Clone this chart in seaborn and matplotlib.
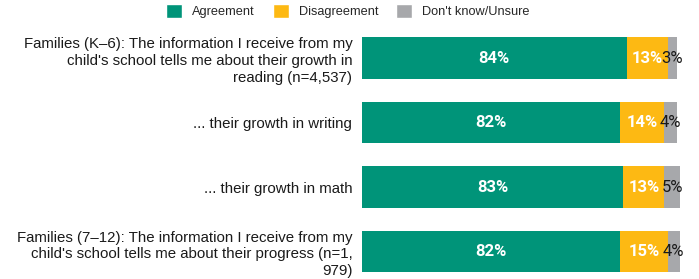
import pandas as pd
import matplotlib.pyplot as plt
import seaborn as sns
from matplotlib.patches import Patch

questions = [
    "Families (K\u20136): The information I receive from my\nchild's school tells me about their growth in\nreading (n=4,537)",
    "... their growth in writing",
    "... their growth in math",
    "Families (7\u201312): The information I receive from my\nchild's school tells me about their progress (n=1,\n979)",
]
agreement = [84, 82, 83, 82]
disagreement = [13, 14, 13, 15]
unsure = [3, 4, 5, 4]

UNS = "Don't know/Unsure"
colors = {'Agreement': '#009479', 'Disagreement': '#FDB913', UNS: '#A7A8AB'}

df = pd.DataFrame({'Question': questions, 'Agreement': agreement,
                   'Disagreement': disagreement, UNS: unsure})
df['cum_dis'] = df['Agreement'] + df['Disagreement']
df['cum_uns'] = df['cum_dis'] + df[UNS]

sns.set_style('white')
plt.rcParams['font.family'] = ['Liberation Sans', 'DejaVu Sans']

fig = plt.figure(figsize=(6.99, 2.79), dpi=100)
ax = fig.add_axes([0.518, 0.0, 0.455, 0.9077])

# stacked bars: draw cumulative totals back to front
bar_kw = dict(orient='h', width=0.65, ax=ax, saturation=1, linewidth=0)
sns.barplot(data=df, y='Question', x='cum_uns', color=colors[UNS], **bar_kw)
sns.barplot(data=df, y='Question', x='cum_dis', color=colors['Disagreement'], **bar_kw)
sns.barplot(data=df, y='Question', x='Agreement', color=colors['Agreement'], **bar_kw)

# percentage labels centred in each segment
lab_kw = dict(ha='center', va='center', fontsize=12, family=['Roboto', 'DejaVu Sans'])
for i, row in df.iterrows():
    ax.text(row['Agreement'] / 2, i, f"{row['Agreement']}%",
            color='white', fontweight='bold', **lab_kw)
    ax.text(row['Agreement'] + row['Disagreement'] / 2, i, f"{row['Disagreement']}%",
            color='white', fontweight='bold', **lab_kw)
    ax.text(row['cum_dis'] + row[UNS] / 2, i, f"{row[UNS]}%",
            color='#1a1a1a', **lab_kw)

ax.set_xlim(0, 101)
ax.set_ylim(3.426, -0.5)
ax.set_xlabel('')
ax.set_ylabel('')
ax.set_xticks([])
ax.tick_params(axis='y', length=0, pad=7, labelsize=10.8)
for lbl in ax.get_yticklabels():
    lbl.set_horizontalalignment('right')
    lbl.set_multialignment('right')
    lbl.set_linespacing(1.25)
    lbl.set_color('#1a1a1a')
sns.despine(ax=ax, left=True, bottom=True)

handles = [Patch(facecolor=c, label=k) for k, c in colors.items()]
fig.legend(handles=handles, loc='center', bbox_to_anchor=(0.498, 0.96), ncol=3,
           frameon=False, prop={'family': 'Liberation Sans', 'size': 9.2},
           handlelength=1.25, handleheight=1.25, columnspacing=1.4,
           handletextpad=0.78, borderpad=0)

fig.savefig('out.png', dpi=100)
